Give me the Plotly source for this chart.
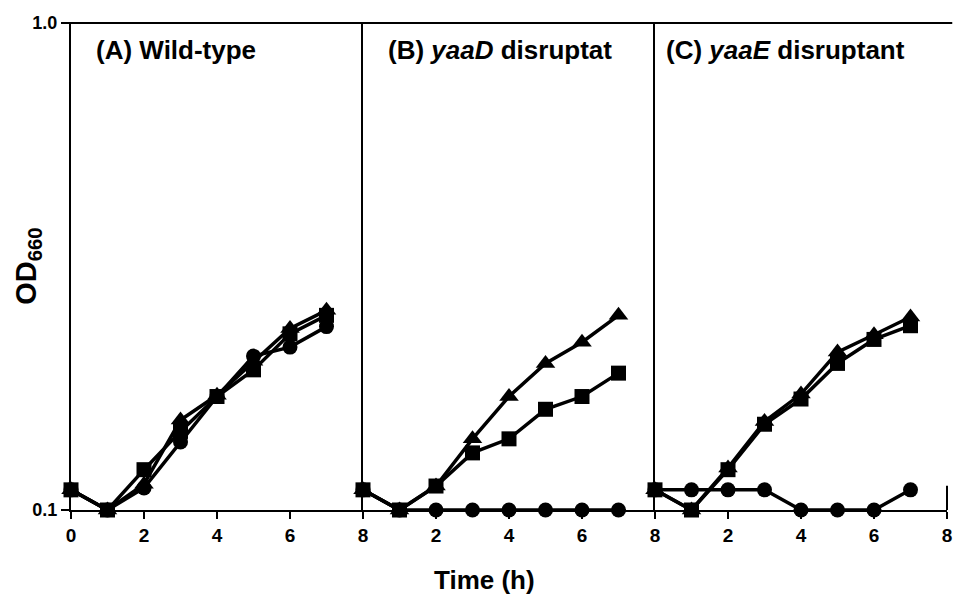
import plotly.graph_objects as go
from plotly.subplots import make_subplots

# Sampling times (h)
time_h = [0, 1, 2, 3, 4, 5, 6, 7]

# OD660 readings, panel (A) wild-type
wt_circle = [0.110, 0.100, 0.111, 0.138, 0.171, 0.207, 0.216, 0.238]
wt_triangle = [0.110, 0.100, 0.113, 0.153, 0.172, 0.202, 0.236, 0.257]
wt_square = [0.110, 0.100, 0.121, 0.145, 0.171, 0.194, 0.230, 0.251]

# panel (B) yaaD disruptant
yaad_circle = [0.110, 0.100, 0.100, 0.100, 0.100, 0.100, 0.100, 0.100]
yaad_triangle = [0.110, 0.100, 0.112, 0.140, 0.171, 0.200, 0.221, 0.251]
yaad_square = [0.110, 0.100, 0.112, 0.131, 0.140, 0.161, 0.171, 0.191]

# panel (C) yaaE disruptant
yaae_circle = [0.110, 0.110, 0.110, 0.110, 0.100, 0.100, 0.100, 0.110]
yaae_triangle = [0.110, 0.100, 0.122, 0.152, 0.173, 0.211, 0.229, 0.249]
yaae_square = [0.110, 0.100, 0.121, 0.150, 0.169, 0.200, 0.224, 0.239]

panel_titles = ["(A) Wild-type", "(B) <i>yaaD</i> disruptat", "(C) <i>yaaE</i> disruptant"]
x_ticks = [[0, 2, 4, 6, 8], [2, 4, 6, 8], [2, 4, 6, 8]]
y_ticks = [0.1, 1.0]
y_ticklabels = ["0.1", "1.0"]

panels = [
    (wt_circle, wt_triangle, wt_square),
    (yaad_circle, yaad_triangle, yaad_square),
    (yaae_circle, yaae_triangle, yaae_square),
]

FONT = "Liberation Sans, Arial, Helvetica, sans-serif"
INK = "black"

fig = make_subplots(rows=1, cols=3, horizontal_spacing=0, shared_yaxes=False)

marker_styles = [
    ("circle", "circle", 15),
    ("triangle", "triangle-up", 17),
    ("square", "square", 15),
]

for col, series in enumerate(panels, start=1):
    for values, (label, symbol, size) in zip(series, marker_styles):
        fig.add_trace(
            go.Scatter(
                x=time_h,
                y=values,
                mode="lines+markers",
                name=label,
                line=dict(color=INK, width=3.5),
                marker=dict(symbol=symbol, size=size, color=INK),
                cliponaxis=False,
                showlegend=False,
            ),
            row=1,
            col=col,
        )

for col in range(1, 4):
    fig.update_xaxes(
        range=[0, 8],
        tickvals=x_ticks[col - 1],
        ticktext=[str(v) for v in x_ticks[col - 1]],
        ticks="outside",
        ticklen=7,
        tickwidth=2,
        tickcolor=INK,
        showline=True,
        linecolor=INK,
        linewidth=2,
        showgrid=False,
        zeroline=False,
        tickfont=dict(family=FONT, size=19, color=INK, weight="bold"),
        row=1,
        col=col,
    )
    fig.update_yaxes(
        type="log",
        range=[-1, 0],
        tickvals=y_ticks,
        ticktext=y_ticklabels,
        showticklabels=(col == 1),
        ticks="outside" if col == 1 else "",
        ticklen=8,
        tickwidth=2,
        tickcolor=INK,
        showline=True,
        linecolor=INK,
        linewidth=2,
        showgrid=False,
        zeroline=False,
        tickfont=dict(family=FONT, size=18, color=INK, weight="bold"),
        row=1,
        col=col,
    )

# Vertical axis title
fig.add_annotation(
    text="OD<sub>660</sub>",
    textangle=-90,
    xref="paper",
    yref="paper",
    x=-0.05,
    y=0.5,
    xanchor="center",
    yanchor="middle",
    showarrow=False,
    font=dict(family=FONT, size=29, color=INK, weight="bold"),
)

# Panel headings
title_x = [0.08, 0.08, 0.03]
for col, (text, tx) in enumerate(zip(panel_titles, title_x), start=1):
    xref = "x domain" if col == 1 else f"x{col} domain"
    fig.add_annotation(
        text=text,
        xref=xref,
        yref="paper",
        x=tx,
        y=0.945,
        xanchor="left",
        yanchor="middle",
        showarrow=False,
        font=dict(family=FONT, size=26, color=INK, weight="bold"),
    )

# Shared time axis title
fig.add_annotation(
    text="Time (h)",
    xref="paper",
    yref="paper",
    x=0.472,
    y=0,
    yshift=-70,
    xanchor="center",
    yanchor="middle",
    showarrow=False,
    font=dict(family=FONT, size=26, color=INK, weight="bold"),
)

# Top frame line across all panels, starting at the 1.0 tick
fig.add_shape(
    type="line",
    xref="paper",
    yref="paper",
    x0=-0.009,
    x1=1.006,
    y0=1,
    y1=1,
    line=dict(color=INK, width=2),
)
# Short closing stroke at the right end of the time axis
fig.add_shape(
    type="line",
    xref="paper",
    yref="paper",
    x0=1,
    x1=1,
    y0=0,
    y1=0.05,
    line=dict(color=INK, width=2),
)

fig.update_layout(
    width=957,
    height=595,
    margin=dict(l=71, r=5, t=23, b=85),
    plot_bgcolor="white",
    paper_bgcolor="white",
    showlegend=False,
)

fig.write_html("out.html")
